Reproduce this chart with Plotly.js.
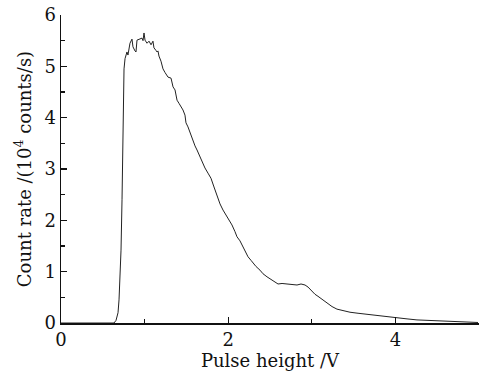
<!DOCTYPE html>
<html>
<head>
<meta charset="utf-8">
<script src="https://cdn.plot.ly/plotly-3.0.1.min.js"></script>
<style>html,body{margin:0;padding:0;background:#fff;}#chart{width:492px;height:374px;}</style>
</head>
<body>
<div id="chart"></div>
<script>
const pulseHeight = [0, 0.634, 0.658, 0.682, 0.694, 0.706, 0.718, 0.730, 0.742, 0.754, 0.766, 0.778, 0.789, 0.801, 0.825, 0.849, 0.861, 0.885, 0.897, 0.909, 0.945, 0.969, 0.981, 0.993, 1.005, 1.029, 1.053, 1.077, 1.100, 1.112, 1.136, 1.148, 1.160, 1.172, 1.196, 1.208, 1.220, 1.244, 1.280, 1.316, 1.328, 1.340, 1.364, 1.388, 1.411, 1.435, 1.459, 1.483, 1.495, 1.519, 1.543, 1.567, 1.579, 1.603, 1.627, 1.651, 1.663, 1.699, 1.722, 1.758, 1.794, 1.830, 1.866, 1.902, 1.938, 1.974, 2.010, 2.045, 2.081, 2.105, 2.141, 2.177, 2.213, 2.237, 2.273, 2.297, 2.333, 2.380, 2.416, 2.464, 2.500, 2.536, 2.596, 2.644, 2.703, 2.763, 2.823, 2.871, 2.919, 2.955, 2.978, 3.014, 3.038, 3.074, 3.098, 3.146, 3.182, 3.242, 3.301, 3.373, 3.457, 3.553, 3.660, 3.756, 3.852, 4.019, 4.139, 4.258, 4.414, 4.533, 4.653, 4.773, 4.892, 4.988];
const countRate = [0, 0, 0.05, 0.2, 0.45, 0.9, 1.42, 2.4, 3.6, 4.95, 5.15, 5.26, 5.28, 5.22, 5.45, 5.53, 5.38, 5.30, 5.28, 5.51, 5.53, 5.55, 5.50, 5.65, 5.51, 5.45, 5.49, 5.42, 5.49, 5.36, 5.31, 5.28, 5.30, 5.20, 5.10, 4.99, 4.95, 4.88, 4.79, 4.77, 4.66, 4.60, 4.54, 4.34, 4.28, 4.22, 4.15, 4.05, 3.90, 3.82, 3.72, 3.62, 3.53, 3.45, 3.37, 3.28, 3.21, 3.10, 3.02, 2.92, 2.82, 2.65, 2.48, 2.32, 2.20, 2.10, 2.00, 1.91, 1.78, 1.68, 1.60, 1.48, 1.38, 1.29, 1.22, 1.17, 1.10, 1.03, 0.96, 0.90, 0.86, 0.82, 0.76, 0.77, 0.76, 0.75, 0.74, 0.76, 0.74, 0.70, 0.66, 0.60, 0.56, 0.52, 0.49, 0.43, 0.39, 0.32, 0.27, 0.24, 0.21, 0.19, 0.17, 0.14, 0.12, 0.10, 0.08, 0.06, 0.05, 0.04, 0.03, 0.02, 0.015, 0.01];
const xTickVals = [0, 2, 4];
const yTickVals = [0, 1, 2, 3, 4, 5, 6];
const xTitle = 'Pulse height /V';
const yTitle = 'Count rate /(10<sup>4</sup> counts/s)';

const fontFam = 'DejaVu Serif, Liberation Serif, serif';
Plotly.newPlot('chart', [{
  x: pulseHeight, y: countRate, type: 'scatter', mode: 'lines',
  line: {color: '#222', width: 1}
}], {
  width: 492, height: 374,
  margin: {l: 61, r: 13, t: 15, b: 51},
  paper_bgcolor: '#fff', plot_bgcolor: '#fff',
  showlegend: false,
  font: {family: fontFam, color: '#111', size: 18},
  xaxis: {
    range: [0, 5], tickvals: xTickVals, ticks: 'inside', ticklen: 6, tickwidth: 1.2, tickcolor: '#111',
    showline: true, linecolor: '#111', linewidth: 1.5, showgrid: false, zeroline: false,
    minor: {dtick: 1, tick0: 0, ticks: 'inside', ticklen: 4, tickcolor: '#111', showgrid: false},
    tickfont: {family: fontFam, size: 18},
    title: {text: xTitle, font: {family: fontFam, size: 18}, standoff: 2}
  },
  yaxis: {
    range: [0, 6], tickvals: yTickVals, ticks: 'inside', ticklen: 6, tickwidth: 1.2, tickcolor: '#111',
    showline: true, linecolor: '#111', linewidth: 1.5, showgrid: false, zeroline: false,
    minor: {dtick: 0.5, tick0: 0, ticks: 'inside', ticklen: 4, tickcolor: '#111', showgrid: false},
    tickfont: {family: fontFam, size: 18},
    title: {text: yTitle, font: {family: fontFam, size: 18}, standoff: 8}
  }
}, {displayModeBar: false, staticPlot: true});
</script>
</body>
</html>
